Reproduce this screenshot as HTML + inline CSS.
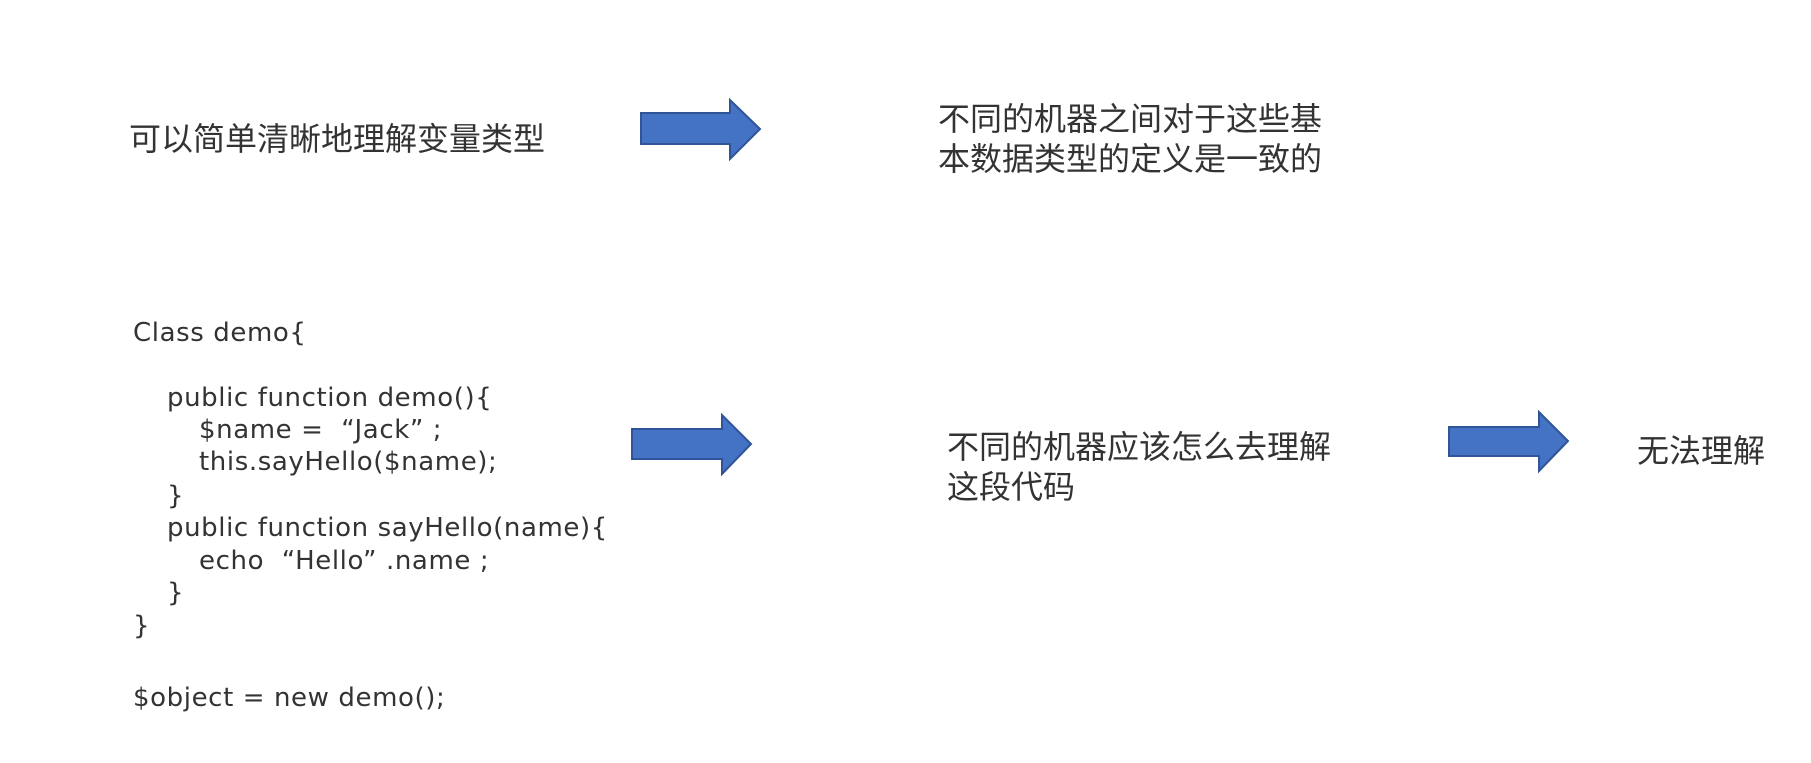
<!DOCTYPE html>
<html><head><meta charset="utf-8"><style>
body{margin:0;width:1811px;height:763px;background:#fff;position:relative;overflow:hidden;font-family:"Liberation Sans","Noto Sans CJK SC",sans-serif;color:#333}
.t{position:absolute;font-size:32px;line-height:40px;white-space:nowrap}
.c{position:absolute;font-family:"DejaVu Sans",sans-serif;font-size:26px;line-height:33px;white-space:nowrap;letter-spacing:0.6px;color:#333}
svg{position:absolute;left:0;top:0}
</style></head><body>
<svg width="1811" height="763">
<g fill="#4472C4" stroke="#2F5597" stroke-width="2">
<polygon points="641,113 730,113 730,100 760,129 730,159 730,144 641,144"/>
<polygon points="632,429 722,429 722,415 751,444 722,474 722,459 632,459"/>
<polygon points="1449,427 1539,427 1539,412 1568,441 1539,471 1539,456 1449,456"/>
</g></svg>
<div class="t" style="left:129px;top:119px">可以简单清晰地理解变量类型</div>
<div class="t" style="left:938px;top:99px">不同的机器之间对于这些基<br>本数据类型的定义是一致的</div>
<div class="t" style="left:947px;top:427px">不同的机器应该怎么去理解<br>这段代码</div>
<div class="t" style="left:1637px;top:431px">无法理解</div>
<div class="c" style="left:133px;top:317px">Class demo{</div>
<div class="c" style="left:167px;top:382px">public function demo(){</div>
<div class="c" style="left:199px;top:414px">$name =&nbsp; “Jack” ;</div>
<div class="c" style="left:199px;top:446px">this.sayHello($name);</div>
<div class="c" style="left:167px;top:480px">}</div>
<div class="c" style="left:167px;top:512px">public function sayHello(name){</div>
<div class="c" style="left:199px;top:545px">echo&nbsp; “Hello” .name ;</div>
<div class="c" style="left:167px;top:577px">}</div>
<div class="c" style="left:133px;top:610px">}</div>
<div class="c" style="left:133px;top:682px">$object = new demo();</div>
</body></html>
